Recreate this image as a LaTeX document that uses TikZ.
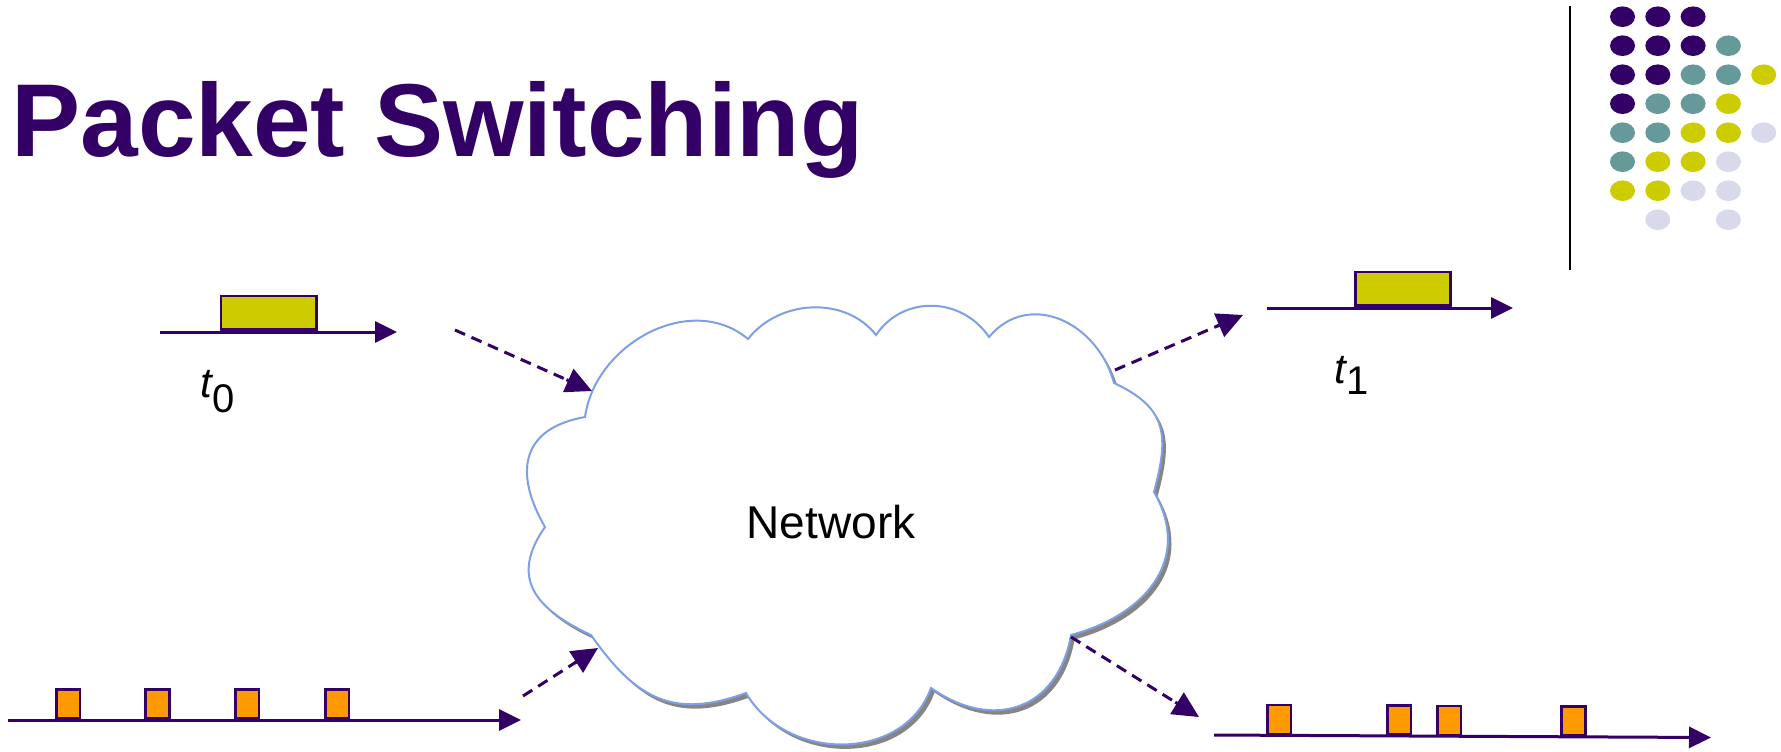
\documentclass[tikz,border=0pt]{standalone}
\usepackage{fontspec}
\setmainfont{Liberation Sans}
\usetikzlibrary{arrows.meta,calc}
\definecolor{pur}{HTML}{330066}
\definecolor{tealc}{HTML}{669999}
\definecolor{ygreen}{HTML}{CCCC00}
\definecolor{lav}{HTML}{D9D9EC}
\definecolor{orng}{HTML}{FF9900}
\definecolor{cloudblue}{HTML}{7F9FE5}
\definecolor{shadowgray}{HTML}{858585}
\begin{document}
\begin{tikzpicture}[x=0.5pt,y=-0.5pt,
  timeline/.style={pur, line width=1.5pt, -{Triangle[length=11pt,width=10.5pt]}},
  flowline/.style={pur, line width=1.5pt, dash pattern=on 5.5pt off 3.5pt},
  flowtip/.style={pur, line width=1.5pt, solid, -{Triangle[length=13pt,width=12.5pt]}},
  bigpkt/.style={draw=pur, fill=ygreen, line width=1.3pt, minimum width=47.7pt, minimum height=16.8pt, inner sep=0pt, anchor=south},
  smallpkt/.style={draw=pur, fill=orng, line width=1.3pt, minimum width=11.8pt, minimum height=14.5pt, inner sep=0pt, anchor=south},
  tlabel/.style={anchor=base west, inner sep=0pt, font=\fontsize{21}{21}\selectfont},
  cloudshape/.style={insert path={
    (585,417) to[out=82,in=-220,looseness=1.05] (748,339)
    to[out=52,in=-232] (876,335)
    to[out=56,in=-236,looseness=1.1] (989,337)
    to[out=50,in=-255,looseness=1.2] (1114,383)
    to[out=-25,in=-285,looseness=1.3] (1154,492)
    to[out=-60,in=15,looseness=1.2] (1071,635)
    to[out=-100,in=-35,looseness=1.3] (931,688)
    to[out=-110,in=-60,looseness=1.1] (746,693)
    to[out=-160,in=-55,looseness=1.2] (591,635)
    to[out=-205,in=-125,looseness=1.35] (545,527)
    to[out=-240,in=-170,looseness=1.4] (585,417) -- cycle}},
  dot/.style={x radius=6.25pt, y radius=5.15pt}
]
\useasboundingbox (0,0) rectangle (1781,751);

% title
\node[anchor=base west, inner sep=0pt, text=pur, font=\bfseries\fontsize{51.8}{52}\selectfont] (title) at (11,156) {Packet Switching};

% divider line
\coordinate (divtop) at (1570,6);
\coordinate (divbot) at (1570,270);
\draw[line width=1pt, black] (divtop) -- (divbot);

% dot grid
\foreach \c/\r/\col in {0/0/pur,1/0/pur,2/0/pur,
  0/1/pur,1/1/pur,2/1/pur,3/1/tealc,
  0/2/pur,1/2/pur,2/2/tealc,3/2/tealc,4/2/ygreen,
  0/3/pur,1/3/tealc,2/3/tealc,3/3/ygreen,
  0/4/tealc,1/4/tealc,2/4/ygreen,3/4/ygreen,4/4/lav,
  0/5/tealc,1/5/ygreen,2/5/ygreen,3/5/lav,
  0/6/ygreen,1/6/ygreen,2/6/lav,3/6/lav,
  1/7/lav,3/7/lav}
  \fill[\col] ({1622.5+35.3*\c},{16.7+29*\r}) ellipse [dot];

% cloud
\fill[shadowgray, xshift=1.8pt, yshift=-2.2pt, cloudshape];
\path[fill=white, draw=cloudblue, line width=1pt, cloudshape];
\node[anchor=base, inner sep=0pt, font=\fontsize{23}{23}\selectfont] (net) at (831,538) {Network};

% top-left timeline
\coordinate (tl0) at (160,332);
\coordinate (tl1) at (397,332);
\draw[timeline] (tl0) -- (tl1);
\node[bigpkt] (pA) at (268.5,331) {};
\node[tlabel] (t0) at (200,397) {\itshape t\upshape\raisebox{-7.5pt}{\fontsize{20}{20}\selectfont 0}};

% top-right timeline
\coordinate (tr0) at (1267,308);
\coordinate (tr1) at (1513,308);
\draw[timeline] (tr0) -- (tr1);
\node[bigpkt] (pB) at (1403,307) {};
\node[tlabel] (t1) at (1334,383) {\itshape t\upshape\raisebox{-5.5pt}{\fontsize{20}{20}\selectfont 1}};

% bottom-left timeline
\coordinate (bl0) at (8,720);
\coordinate (bl1) at (521,720);
\draw[timeline] (bl0) -- (bl1);
\foreach \x [count=\i] in {68,157.5,247,337}
  \node[smallpkt] (pl\i) at (\x,719.5) {};

% bottom-right timeline
\coordinate (br0) at (1214,735);
\coordinate (br1) at (1711,737.5);
\draw[timeline] (br0) -- (br1);
\foreach \x/\y [count=\i] in {1279/735.3,1399/735.9,1449/736.2,1573.5/736.8}
  \node[smallpkt] (pr\i) at (\x,\y) {};

% dashed flow arrows
\coordinate (a1s) at (455,330);
\coordinate (a1e) at (592,391);
\coordinate (a2s) at (1115,370);
\coordinate (a2e) at (1243,315);
\coordinate (a3s) at (523,696);
\coordinate (a3e) at (598,648);
\coordinate (a4s) at (1071,637);
\coordinate (a4e) at (1199,717);
\foreach \s/\e in {a1s/a1e,a2s/a2e,a3s/a3e,a4s/a4e}{
  \draw[flowline] (\s) -- ($(\e)!9pt!(\s)$);
  \draw[flowtip] ($(\e)!14pt!(\s)$) -- (\e);
}
\end{tikzpicture}
\end{document}
